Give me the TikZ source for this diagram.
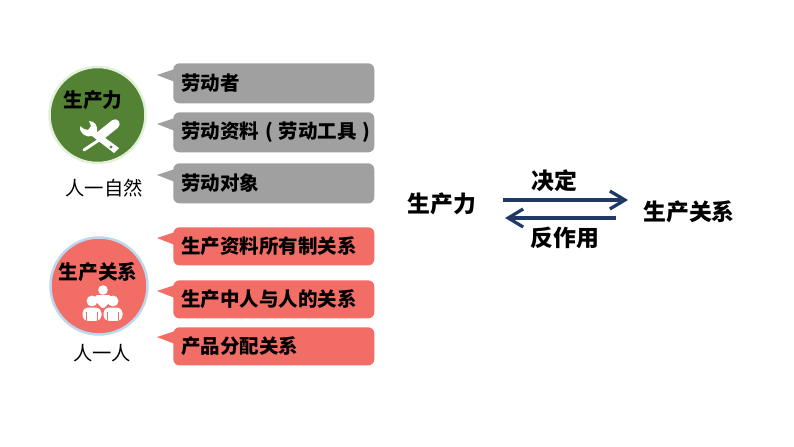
\documentclass[tikz,border=0pt]{standalone}
\usepackage{fontspec}
\setmainfont{Noto Sans CJK SC}
\usetikzlibrary{arrows.meta}

\definecolor{prodgreen}{HTML}{548235}
\definecolor{prodring}{HTML}{E2F0D9}
\definecolor{relred}{HTML}{F26D66}
\definecolor{relring}{HTML}{BDD7EE}
\definecolor{boxgray}{HTML}{A0A0A0}
\definecolor{arrowblue}{HTML}{1F3864}

\tikzset{
    itembox/.style={anchor=north west, rounded corners=1.2mm, text width=36.98mm, inner xsep=1.6mm, inner ysep=0pt, align=left, font=\fontsize{11.1}{11}\selectfont\bfseries},
    bigtext/.style={font=\fontsize{13}{13}\selectfont\bfseries},
    circletext/.style={font=\fontsize{11.2}{11}\selectfont\bfseries},
    plaintext/.style={font=\fontsize{11}{11}\selectfont},
    mainarrow/.style={arrowblue, line width=0.65mm, -{Straight Barb[length=3mm,width=3.6mm]}}
}

\begin{document}
\begin{tikzpicture}[x=0.2mm,y=-0.2mm]

    \useasboundingbox (0,0) rectangle (794,447);

    %% Left column

    % Circle of the forces
    \node (prodcircle) [circle, draw=prodring, line width=0.5mm, fill=prodgreen, minimum size=19.2mm, inner sep=0pt] at (97.5,115) {};
    \node (prodname) [circletext] at (93,100) {生产力};
    \node (prodnote) [plaintext] at (104,188) {人一自然};

    % Tools icon
    \fill[white] (80,126) .. controls (79,134) and (87,138) .. (92,136) -- (114,153) -- (119,148) -- (97,132) .. controls (98,126) and (95,121) .. (89,121) -- (91,126) -- (88,130) -- (84,129) -- cycle;
    \fill[prodgreen] (111,147) circle (1.6);
    \draw[white, line width=0.6mm, line cap=round] (84,150) -- (102,138);
    \draw[white, line width=1.9mm, line cap=round] (100,136) -- (115,124);

    % Gray boxes
    \foreach \name/\ya/\ha/\ytip/\txt in {laborer/63/40/75/劳动者, means/112/40/124/劳动资料\makebox[1em]{(}劳动工具\makebox[1em]{)}, object/163/40/175/劳动对象} {
        \node (\name) [itembox, fill=boxgray, minimum height=\ha*0.2mm] at (173,\ya) {\raisebox{-0.5mm}{\txt}};
        \coordinate (\name tip) at (157,\ytip);
        \fill[boxgray] (\name tip) -- (175,\ytip-6) -- (175,\ytip+7) -- cycle;
    }

    % Circle of the relations
    \node (relcircle) [circle, draw=relring, line width=0.5mm, fill=relred, minimum size=19.4mm, inner sep=0pt] at (99,286) {};
    \node (relname) [circletext] at (98,272) {生产关系};
    \node (relnote) [plaintext] at (102,353) {人一人};

    % People icon
    \fill[white] (103,290) circle (4.8);
    \fill[white, rounded corners=1pt] (95,295) -- (111,295) -- (111,301) -- (103,309) -- (95,301) -- cycle;
    \foreach \cx in {92,113} {
        \fill[white] (\cx,301) circle (5.5);
        \fill[white, draw=relred, line width=0.2mm, rounded corners=1.2mm] (\cx-10,321.5) -- (\cx-10,307) -- (\cx+10,307) -- (\cx+10,321.5) -- cycle;
        \draw[relred, line width=0.25mm] (\cx-5.5,312) -- (\cx-5.5,321.5);
        \draw[relred, line width=0.25mm] (\cx+5.5,312) -- (\cx+5.5,321.5);
    }

    % Red boxes
    \foreach \name/\ya/\ha/\ytip/\txt in {owning/227/38/238/生产资料所有制关系, working/280/38/291/生产中人与人的关系, sharing/327/38/337/产品分配关系} {
        \node (\name) [itembox, fill=relred, minimum height=\ha*0.2mm] at (173,\ya) {\raisebox{-0.5mm}{\txt}};
        \coordinate (\name tip) at (157,\ytip);
        \fill[relred] (\name tip) -- (175,\ytip-6) -- (175,\ytip+7) -- cycle;
    }

    %% Right side

    \node (forces) [bigtext] at (442,204) {生产力};
    \node (relations) [bigtext] at (689,212) {生产关系};
    \node (decides) [bigtext] at (554,181) {决定};
    \node (reacts) [bigtext] at (565,238) {反作用};

    % Arrows
    \coordinate (decidestart) at (503,200);
    \coordinate (decideend) at (628,200);
    \coordinate (reactstart) at (616,218);
    \coordinate (reactend) at (505,218);
    \draw[mainarrow] (decidestart) -- (decideend);
    \draw[mainarrow] (reactstart) -- (reactend);

\end{tikzpicture}
\end{document}
